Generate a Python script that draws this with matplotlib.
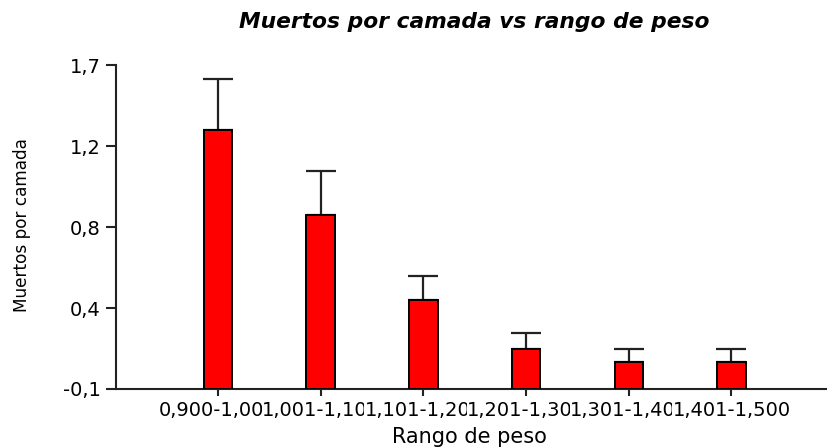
import matplotlib
matplotlib.use("Agg")
import matplotlib.pyplot as plt
import numpy as np

plt.rcParams['font.family'] = ['DejaVu Sans']

categories = ["0,900-1,000", "1,001-1,100", "1,101-1,200", "1,201-1,300", "1,301-1,400", "1,401-1,500"]
values = [1.34, 0.867, 0.392, 0.122, 0.05, 0.05]
errors = [0.28, 0.246, 0.134, 0.087, 0.07, 0.07]
yticks = [-0.1, 0.35, 0.8, 1.25, 1.7]
ytick_labels = ["-0,1", "0,4", "0,8", "1,2", "1,7"]

W, H = 827, 447
fig = plt.figure(figsize=(W / 100, H / 100), dpi=100)
ax = fig.add_axes([116 / W, 58 / H, (827 - 116) / W, (389 - 65) / H])

x = np.arange(len(categories))
ymin, ymax = yticks[0], yticks[-1]
vals = np.array(values)
ax.bar(x, vals - ymin, bottom=ymin, width=0.277, color="#ff0000",
       edgecolor="black", linewidth=1.4, zorder=3)
ax.errorbar(x, vals, yerr=[np.zeros_like(vals), np.array(errors)], fmt="none",
            ecolor="#222222", elinewidth=1.6, capsize=10.8, capthick=1.6, zorder=2)

ax.set_xlim(-0.993, 5.93)
ax.set_ylim(ymin, ymax)
ax.set_yticks(yticks)
ax.set_yticklabels(ytick_labels, fontsize=14)
ax.set_xticks(x)
ax.set_xticklabels(categories, fontsize=14,
                   bbox=dict(facecolor="white", edgecolor="none", pad=0))
for lab in ax.get_xticklabels():
    lab.set_bbox(dict(facecolor="white", edgecolor="none", pad=0))

for s in ["top", "right"]:
    ax.spines[s].set_visible(False)
for s in ["left", "bottom"]:
    ax.spines[s].set_linewidth(1.5)
    ax.spines[s].set_color("#222222")
ax.tick_params(axis="x", length=5, width=1.5, pad=4, color="#222222")
ax.tick_params(axis="y", length=7, width=1.5, pad=4, color="#222222")

fig.text(474 / W, 1 - 22 / H, "Muertos por camada vs rango de peso",
         ha="center", va="center", fontsize=15.7, fontweight="bold", fontstyle="italic")
fig.text(469 / W, 1 - 443 / H, "Rango de peso", ha="center", va="baseline", fontsize=15)
fig.text(22 / W, 1 - 225.5 / H, "Muertos por camada", ha="center", va="center",
         rotation=90, fontsize=12.2)

fig.savefig("out.png", dpi=100)
